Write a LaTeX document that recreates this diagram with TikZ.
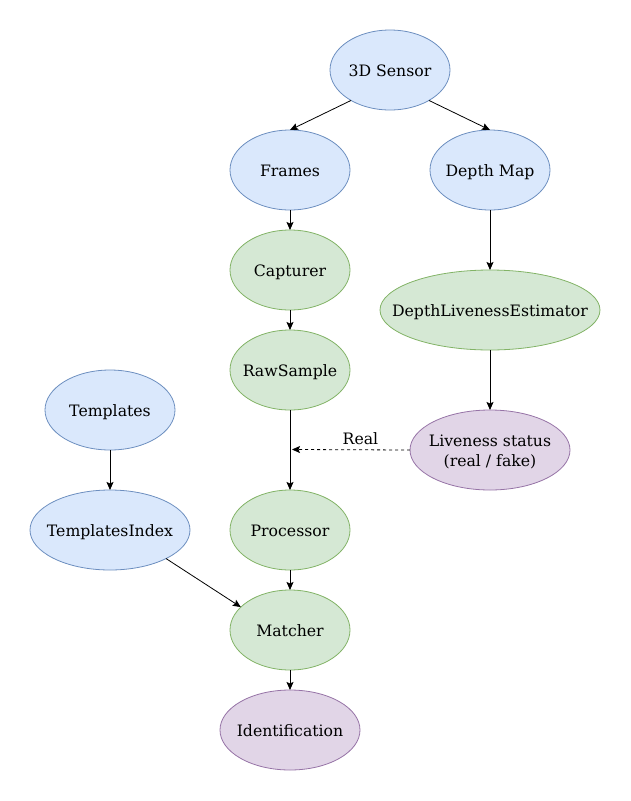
\documentclass[tikz,border=0pt]{standalone}
\usepackage{fontspec}
\setmainfont{DejaVu Serif}
\usetikzlibrary{shapes.geometric,arrows.meta}
\definecolor{bfill}{HTML}{DAE8FC}\definecolor{bdraw}{HTML}{6C8EBF}
\definecolor{gfill}{HTML}{D5E8D4}\definecolor{gdraw}{HTML}{82B366}
\definecolor{pfill}{HTML}{E1D5E7}\definecolor{pdraw}{HTML}{9673A6}
\newcommand{\zt}[1]{\raisebox{-2.5pt}[\height][\depth]{\makebox[0pt][c]{\begin{tabular}{@{}c@{}}#1\end{tabular}}}}
\tikzset{
  el/.style={ellipse,inner sep=0pt,outer sep=0pt,minimum height=80pt,line width=0.8pt,font=\fontsize{15.7}{19.5}\selectfont},
  blue/.style={el,fill=bfill,draw=bdraw},
  green/.style={el,fill=gfill,draw=gdraw},
  purple/.style={el,fill=pfill,draw=pdraw},
  conn/.style={line width=0.8pt,-{Stealth[length=8pt,width=7pt,inset=1.5pt]}},
}
\begin{document}
\begin{tikzpicture}[x=1pt,y=-1pt]
\useasboundingbox (0,0) rectangle (631,801);
\node[blue,minimum width=120pt] (s3d) at (390,70) {\zt{3D Sensor}};
\node[blue,minimum width=120pt] (fr) at (290,170) {\zt{Frames}};
\node[blue,minimum width=120pt] (dm) at (490,170) {\zt{Depth Map}};
\node[green,minimum width=120pt] (cap) at (290,270) {\zt{Capturer}};
\node[green,minimum width=220pt] (dle) at (490,310) {\zt{DepthLivenessEstimator}};
\node[green,minimum width=120pt] (raw) at (290,370) {\zt{RawSample}};
\node[blue,minimum width=130pt] (tpl) at (110,410) {\zt{Templates}};
\node[purple,minimum width=160pt] (liv) at (490,450) {\zt{Liveness status\\(real / fake)}};
\node[blue,minimum width=160pt] (tix) at (110,530) {\zt{TemplatesIndex}};
\node[green,minimum width=120pt] (proc) at (290,530) {\zt{Processor}};
\node[green,minimum width=120pt] (mat) at (290,630) {\zt{Matcher}};
\node[purple,minimum width=140pt] (idn) at (290,730) {\zt{Identification}};
\coordinate (rj) at (292,449.5);
\draw[conn] (s3d.218) -- (fr.north);
\draw[conn] (s3d.-38) -- (dm.north);
\draw[conn] (fr) -- (cap);
\draw[conn] (cap) -- (raw);
\draw[conn] (raw) -- (proc);
\draw[conn] (proc) -- (mat);
\draw[conn] (mat) -- (idn);
\draw[conn] (dm) -- (dle);
\draw[conn] (dle) -- (liv);
\draw[conn] (tpl) -- (tix);
\draw[conn] (tix.-27) -- (mat.155);
\draw[conn,dashed] (liv.west) -- (rj) node[pos=0.42,above=1pt,font=\fontsize{15.7}{19.5}\selectfont] (rl) {Real};
\end{tikzpicture}
\end{document}
